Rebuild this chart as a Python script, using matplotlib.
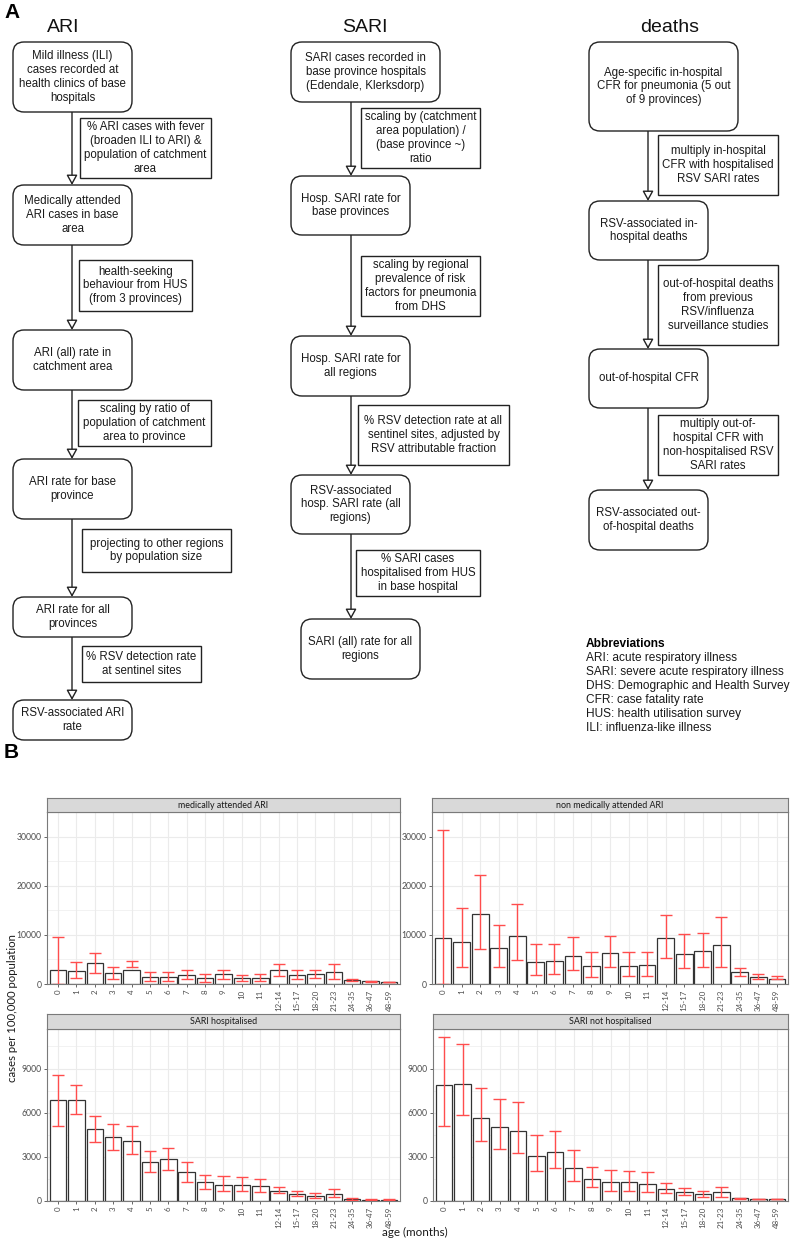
import matplotlib
matplotlib.use("Agg")
import matplotlib.pyplot as plt
from matplotlib.patches import FancyBboxPatch, Rectangle, FancyArrowPatch
import numpy as np

W, H = 790, 1240
FLOW_FONT = "Liberation Sans"
GG_FONT = "Lato"

# ── flowchart texts ──────────────────────────────────────────────────────────
ARI_BOXES = [
    "Mild illness (ILI)\ncases recorded at\nhealth clinics of base\nhospitals",
    "Medically attended\nARI cases in base\narea",
    "ARI (all) rate in\ncatchment area",
    "ARI rate for base\nprovince",
    "ARI rate for all\nprovinces",
    "RSV-associated ARI\nrate",
]
ARI_STEPS = [
    "% ARI cases with fever\n(broaden ILI to ARI) &\npopulation of catchment\narea",
    "health-seeking\nbehaviour from HUS\n(from 3 provinces)",
    "scaling by ratio of\npopulation of catchment\narea to province",
    "projecting to other regions\nby population size",
    "% RSV detection rate\nat sentinel sites",
]
SARI_BOXES = [
    "SARI cases recorded in\nbase province hospitals\n(Edendale, Klerksdorp)",
    "Hosp. SARI rate for\nbase provinces",
    "Hosp. SARI rate for\nall regions",
    "RSV-associated\nhosp. SARI rate (all\nregions)",
    "SARI (all) rate for all\nregions",
]
SARI_STEPS = [
    "scaling by (catchment\narea population) /\n(base province ~)\nratio",
    "scaling by regional\nprevalence of risk\nfactors for pneumonia\nfrom DHS",
    "% RSV detection rate at all\nsentinel sites, adjusted by\nRSV attributable fraction",
    "% SARI cases\nhospitalised from HUS\nin base hospital",
]
DEATH_BOXES = [
    "Age-specific in-hospital\nCFR for pneumonia (5 out\nof 9 provinces)",
    "RSV-associated in-\nhospital deaths",
    "out-of-hospital CFR",
    "RSV-associated out-\nof-hospital deaths",
]
DEATH_STEPS = [
    "multiply in-hospital\nCFR with hospitalised\nRSV SARI rates",
    "out-of-hospital deaths\nfrom previous\nRSV/influenza\nsurveillance studies",
    "multiply out-of-\nhospital CFR with\nnon-hospitalised RSV\nSARI rates",
]
ABBREVIATIONS = [
    "ARI: acute respiratory illness",
    "SARI: severe acute respiratory illness",
    "DHS: Demographic and Health Survey",
    "CFR: case fatality rate",
    "HUS: health utilisation survey",
    "ILI: influenza-like illness",
]

# ── panel B data (cases per 100,000) ─────────────────────────────────────────
AGES = ["0", "1", "2", "3", "4", "5", "6", "7", "8", "9", "10", "11",
        "12-14", "15-17", "18-20", "21-23", "24-35", "36-47", "48-59"]
FACETS = ["medically attended ARI", "non medically attended ARI",
          "SARI hospitalised", "SARI not hospitalised"]

ma_ari_mean = [2800, 2560, 4300, 2200, 2940, 1440, 1500, 1750, 1250, 2000,
               1130, 1250, 2800, 1880, 2060, 2500, 810, 560, 440]
ma_ari_lo = [0, 1250, 2250, 1060, 3400, 560, 690, 940, 440, 1060,
             560, 620, 1630, 1060, 1190, 1060, 620, 440, 310]
ma_ari_hi = [9600, 4400, 6300, 3440, 4620, 2380, 2380, 2750, 2000, 2750,
             1880, 1940, 4060, 2880, 2880, 4000, 1000, 690, 500]

nma_ari_mean = [9310, 8560, 14190, 7250, 9690, 4500, 4750, 5690, 3690, 6250,
                3630, 3810, 9310, 6130, 6630, 8000, 2380, 1440, 1060]
nma_ari_lo = [0, 3500, 7190, 3380, 4810, 1750, 2060, 2750, 1440, 3380,
              1560, 1560, 5380, 3190, 3560, 3440, 1630, 1000, 940]
nma_ari_hi = [31300, 15380, 22190, 11940, 16250, 8190, 8060, 9500, 6560, 9690,
              6440, 6500, 14060, 10250, 10380, 13630, 3190, 2060, 1630]

sari_h_mean = [6880, 6880, 4900, 4330, 4110, 2620, 2870, 1940, 1310, 1080,
               1080, 1020, 700, 470, 360, 500, 135, 90, 90]
sari_h_lo = [5080, 5890, 4000, 3480, 3200, 1940, 2120, 1310, 840, 650,
             650, 610, 520, 360, 230, 270, 90, 70, 70]
sari_h_hi = [8530, 7880, 5760, 5240, 5100, 3410, 3630, 2640, 1780, 1690,
             1630, 1510, 950, 680, 540, 810, 200, 110, 130]

sari_nh_mean = [7880, 7920, 5640, 5010, 4740, 3050, 3320, 2260, 1510, 1290,
                1290, 1170, 840, 590, 450, 590, 180, 135, 135]
sari_nh_lo = [5120, 5850, 4090, 3540, 3230, 2010, 2230, 1380, 950, 700,
              700, 630, 560, 380, 250, 290, 140, 110, 110]
sari_nh_hi = [11130, 10650, 7670, 6930, 6750, 4470, 4740, 3450, 2330, 2100,
              2010, 1960, 1220, 860, 680, 950, 230, 160, 160]


fig = plt.figure(figsize=(W / 100, H / 100), dpi=100)
fig.patch.set_facecolor("white")

# pixel-space canvas for panel A
ax = fig.add_axes([0, 0, 1, 1])
ax.set_xlim(0, W)
ax.set_ylim(H, 0)
ax.axis("off")


def caixa(x0, y0, x1, y1, texto, rounded=True):
    if rounded:
        p = FancyBboxPatch((x0, y0), x1 - x0, y1 - y0,
                           boxstyle="round,pad=0,rounding_size=11",
                           fc="white", ec="#222222", lw=1.0)
    else:
        p = Rectangle((x0, y0), x1 - x0, y1 - y0, fc="white", ec="#222222", lw=1.0)
    ax.add_patch(p)
    ax.text((x0 + x1) / 2, (y0 + y1) / 2, texto, ha="center", va="center",
            fontsize=8.3, linespacing=1.22, family=FLOW_FONT, color="#1a1a1a")


def seta(x, y0, y1):
    ax.add_patch(FancyArrowPatch((x, y0), (x, y1),
                                 arrowstyle="-|>,head_length=0.6,head_width=0.33",
                                 mutation_scale=10, fc="white", ec="#222222",
                                 lw=1.0, shrinkA=0, shrinkB=0))


def coluna(titulo, tx, boxes, box_rects, steps, step_rects, arrow_x):
    ax.text(tx, 27, titulo, ha="center", va="center", fontsize=14,
            family=FLOW_FONT, color="#111111")
    for i in range(len(boxes) - 1):
        seta(arrow_x, box_rects[i][3], box_rects[i + 1][1])
    for txt, r in zip(boxes, box_rects):
        caixa(*r, txt)
    for txt, r in zip(steps, step_rects):
        caixa(*r, txt, rounded=False)


ax.text(4, 12, "A", ha="left", va="center", fontsize=15, fontweight="bold",
        family=FLOW_FONT)

coluna("ARI", 63, ARI_BOXES,
       [(13, 42, 132, 112), (13, 185, 132, 245), (13, 330, 132, 390),
        (13, 459, 132, 519), (13, 597, 132, 637), (13, 700, 132, 740)],
       ARI_STEPS,
       [(80, 118, 211, 178), (79, 260, 192, 311), (78, 400, 211, 446),
        (82, 529, 231, 572), (82, 646, 201, 682)], 72)

coluna("SARI", 365, SARI_BOXES,
       [(291, 42, 440, 102), (291, 176, 410, 235), (291, 336, 410, 396),
        (291, 475, 410, 534), (301, 619, 420, 679)],
       SARI_STEPS,
       [(361, 108, 480, 168), (361, 256, 480, 316), (358, 405, 509, 465),
        (356, 550, 480, 596)], 351)

coluna("deaths", 670, DEATH_BOXES,
       [(589, 42, 738, 131), (589, 201, 708, 260), (589, 349, 708, 408),
        (589, 490, 708, 550)],
       DEATH_STEPS,
       [(658, 135, 778, 195), (658, 265, 778, 345), (658, 415, 778, 475)], 648)

ax.text(586, 644, "Abbreviations", ha="left", va="center", fontsize=8.6,
        fontweight="bold", family=FLOW_FONT)
for i, linha in enumerate(ABBREVIATIONS):
    ax.text(586, 658.5 + 13.9 * i, linha, ha="left", va="center", fontsize=8.6,
            family=FLOW_FONT, color="#1a1a1a")

ax.text(4, 752, "B", ha="left", va="center", fontsize=15, fontweight="bold",
        family=FLOW_FONT)


# ── panel B: facets ──────────────────────────────────────────────────────────
def rect_fig(x0, y0, x1, y1):
    return [x0 / W, 1 - y1 / H, (x1 - x0) / W, (y1 - y0) / H]


GRID = "#EBEBEB"
BORDA = "#7a7a7a"
ERRO = "#ff4d4d"


def faceta(rect, strip, nome, mean, lo, hi, ytop, yticks):
    a = fig.add_axes(rect_fig(*rect))
    s = fig.add_axes(rect_fig(rect[0], strip[0], rect[2], strip[1]))
    s.set_facecolor("#D9D9D9")
    s.set_xticks([])
    s.set_yticks([])
    for sp in s.spines.values():
        sp.set_color(BORDA)
        sp.set_linewidth(0.8)
    s.text(0.5, 0.48, nome, ha="center", va="center", fontsize=6.4,
           family=GG_FONT, color="#1a1a1a", transform=s.transAxes)

    x = np.arange(len(AGES))
    mean, lo, hi = map(np.asarray, (mean, lo, hi))
    a.bar(x, mean, width=0.9, fc="white", ec="#333333", lw=0.9, zorder=2)
    a.vlines(x, lo, hi, color=ERRO, lw=1.0, zorder=3)
    a.hlines(lo, x - 0.33, x + 0.33, color=ERRO, lw=1.0, zorder=3)
    a.hlines(hi, x - 0.33, x + 0.33, color=ERRO, lw=1.0, zorder=3)

    a.set_xlim(-0.6, len(AGES) - 0.4)
    a.set_ylim(0, ytop * 1.05)
    a.set_xticks(x)
    a.set_xticklabels(AGES, rotation=90, fontsize=5.7, color="#4d4d4d",
                      family=GG_FONT)
    a.set_yticks(yticks)
    a.set_yticklabels([str(t) for t in yticks], fontsize=6.2, color="#4d4d4d",
                      family=GG_FONT)
    mids = [(yticks[i] + yticks[i + 1]) / 2 for i in range(len(yticks) - 1)]
    mids.append(yticks[-1] + (yticks[1] - yticks[0]) / 2)
    a.set_yticks(mids, minor=True)
    a.tick_params(which="major", length=2.5, width=0.6, color="#4d4d4d", pad=1.5)
    a.tick_params(which="minor", length=0)
    a.grid(True, which="major", color=GRID, lw=0.8, zorder=0)
    a.grid(True, which="minor", axis="y", color=GRID, lw=0.45, zorder=0)
    a.set_axisbelow(True)
    for sp in a.spines.values():
        sp.set_color(BORDA)
        sp.set_linewidth(0.8)
    return a


top_max = max(max(ma_ari_hi), max(nma_ari_hi))
bot_max = max(max(sari_h_hi), max(sari_nh_hi))
faceta((47, 812, 400, 984), (798, 812), FACETS[0],
       ma_ari_mean, ma_ari_lo, ma_ari_hi, top_max, [0, 10000, 20000, 30000])
faceta((432, 812, 788, 984), (798, 812), FACETS[1],
       nma_ari_mean, nma_ari_lo, nma_ari_hi, top_max, [0, 10000, 20000, 30000])
faceta((47, 1029, 400, 1201), (1014, 1029), FACETS[2],
       sari_h_mean, sari_h_lo, sari_h_hi, bot_max, [0, 3000, 6000, 9000])
faceta((433, 1029, 788, 1201), (1014, 1029), FACETS[3],
       sari_nh_mean, sari_nh_lo, sari_nh_hi, bot_max, [0, 3000, 6000, 9000])

fig.text(13 / W, 1 - 1008 / H, "cases per 100,000 population", rotation=90,
         ha="center", va="center", fontsize=8.2, family=GG_FONT, color="#1a1a1a")
fig.text(415 / W, 1 - 1232 / H, "age (months)", ha="center", va="center",
         fontsize=8.4, family=GG_FONT, color="#1a1a1a")

fig.savefig("out.png", dpi=100, facecolor="white")
